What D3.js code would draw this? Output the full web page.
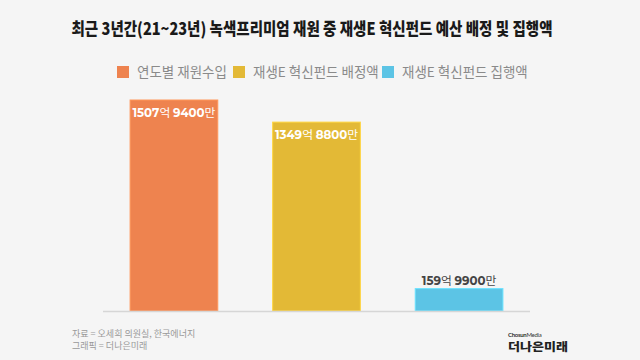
<!DOCTYPE html>
<html><head><meta charset="utf-8">
<script src="https://cdn.jsdelivr.net/npm/d3@7"></script>
<style>
html,body{margin:0;padding:0;background:#f5f5f5;}
svg{display:block;}
</style></head>
<body>
<svg id="chart" width="640" height="360"></svg>
<script>
const categories = ["연도별 재원수입", "재생E 혁신펀드 배정액", "재생E 혁신펀드 집행액"];
const values = [1507.94, 1349.88, 159.99];          // 억원
const labelNums = [["1507", "9400"], ["1349", "8800"], ["159", "9900"]];
const colors = ["#EE834F", "#E3B936", "#5CC4E5"];
const title = "최근 3년간(21~23년) 녹색프리미엄 재원 중 재생E 혁신펀드 예산 배정 및 집행액";
const sources = ["자료 = 오세희 의원실, 한국에너지", "그래픽 = 더나은미래"];

const svg = d3.select("#chart");
const KR = "'Noto Sans CJK KR', 'Noto Sans', sans-serif";
const NUM = "Montserrat, Lato, 'Open Sans', sans-serif";

svg.append("rect").attr("width", 640).attr("height", 360).attr("fill", "#f5f5f5");

svg.append("text").attr("x", 312).attr("y", 35)
  .attr("text-anchor", "middle").attr("font-family", KR).attr("font-weight", 900)
  .attr("font-size", 17).attr("fill", "#1a1a1a")
  .attr("textLength", 481).attr("lengthAdjust", "spacingAndGlyphs")
  .text(title);

// legend
const legendX = [117, 233, 382];
const lg = svg.append("g");
categories.forEach((c, i) => {
  lg.append("rect").attr("x", legendX[i]).attr("y", 66).attr("width", 12).attr("height", 12).attr("fill", colors[i]);
  lg.append("text").attr("x", legendX[i] + 20).attr("y", 77)
    .attr("font-family", KR).attr("font-size", 13.5).attr("fill", "#8a8a8a").text(c);
});

const x = d3.scaleBand().domain(categories).range([103, 530]).paddingInner(0.385).paddingOuter(0.19);
const y = d3.scaleLinear().domain([0, d3.max(values)]).range([311, 100]);

svg.selectAll("rect.bar").data(values).join("rect").attr("class", "bar")
  .attr("x", (d, i) => x(categories[i])).attr("width", x.bandwidth())
  .attr("y", d => y(d)).attr("height", d => y(0) - y(d))
  .attr("fill", (d, i) => colors[i])
  .attr("stroke", (d, i) => d3.color(colors[i]).brighter(0.4)).attr("stroke-width", 1);

svg.append("line").attr("x1", 103).attr("x2", 530).attr("y1", y(0) + 0.5).attr("y2", y(0) + 0.5)
  .attr("stroke", "#d6d6d6").attr("stroke-width", 1.5);

// value labels
values.forEach((v, i) => {
  const inside = (y(0) - y(v)) > 40;
  const ty = inside ? y(v) + 17 : y(v) - 4;
  const col = inside ? "#ffffff" : "#444444";
  const t = svg.append("text").attr("x", x(categories[i]) + x.bandwidth() / 2).attr("y", ty)
    .attr("text-anchor", "middle").attr("font-size", 11.8).attr("fill", col);
  t.append("tspan").attr("font-family", NUM).attr("font-weight", 700).text(labelNums[i][0]);
  t.append("tspan").attr("font-family", KR).attr("font-weight", 400).text("억 ");
  t.append("tspan").attr("font-family", NUM).attr("font-weight", 700).text(labelNums[i][1]);
  t.append("tspan").attr("font-family", KR).attr("font-weight", 400).text("만");
});

// footer
sources.forEach((s, i) => {
  svg.append("text").attr("x", 72).attr("y", 336.5 + i * 12.5)
    .attr("font-family", KR).attr("font-size", 9).attr("fill", "#999").text(s);
});
svg.append("text").attr("x", 508).attr("y", 337).attr("font-family", "Lato, sans-serif")
  .attr("font-size", 6).attr("fill", "#333").attr("letter-spacing", -0.3)
  .html('<tspan font-weight="700">Chosun</tspan><tspan>Media</tspan>');
svg.append("text").attr("x", 508).attr("y", 350.5).attr("font-family", KR).attr("font-weight", 900)
  .attr("font-size", 11).attr("fill", "#222").attr("textLength", 60).attr("lengthAdjust", "spacingAndGlyphs")
  .text("더나은미래");
</script>
</body></html>
